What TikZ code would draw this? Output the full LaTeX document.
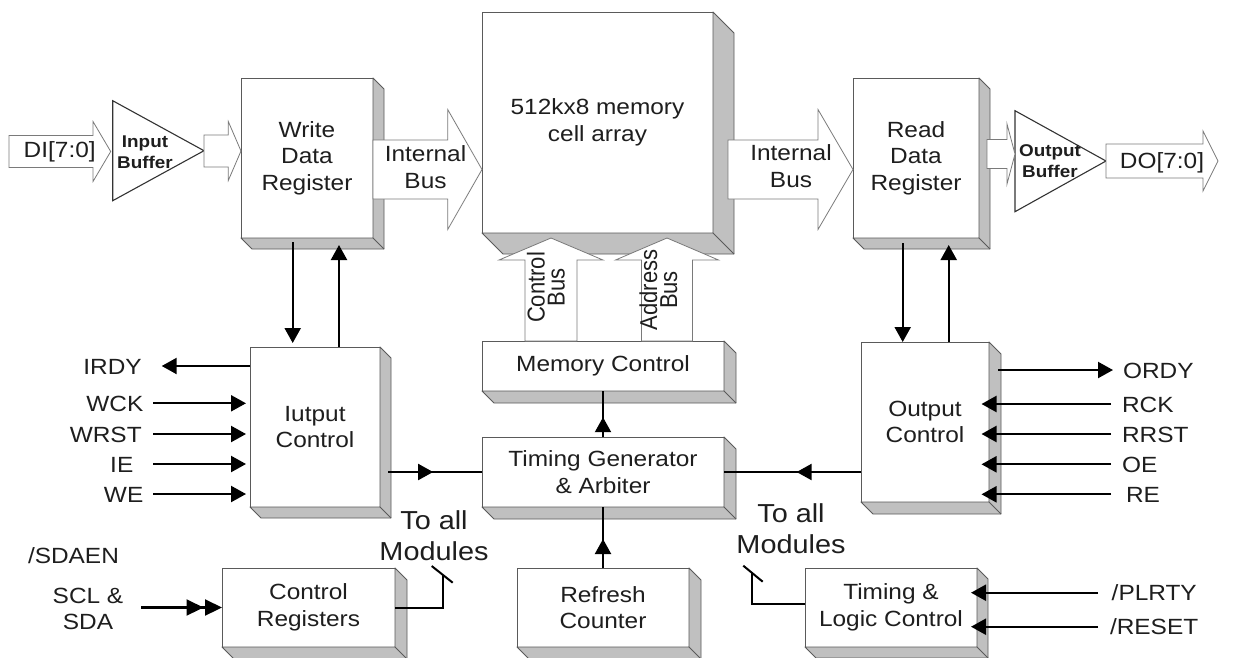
\documentclass[tikz,border=0pt]{standalone}
\usepackage{fontspec}
\setmainfont{Liberation Sans}[FakeStretch=1.11]
\newfontfamily\plainsans{Liberation Sans}
\usetikzlibrary{arrows.meta,calc,decorations.markings}

\definecolor{sidegray}{HTML}{C0C0C0}
\definecolor{edgegray}{HTML}{5A5A5A}
\definecolor{busedge}{HTML}{7A7A7A}
\definecolor{ink}{HTML}{1E1E1E}

\tikzset{
  blk/.style={draw=edgegray, line width=0.9pt, fill=white, inner sep=0pt, outer sep=0pt,
    align=center, text=ink, font=\fontsize{22}{26.5}\selectfont},
  sidepart/.style={draw=edgegray, line width=0.9pt, fill=sidegray, line join=round},
  busarrow/.style={draw=busedge, line width=0.8pt, fill=white, line join=miter},
  lbl/.style={inner sep=0pt, outer sep=0pt, text=ink, font=\fontsize{22}{26.5}\selectfont, align=center},
  sigl/.style={inner sep=0pt, outer sep=0pt, text=ink, font=\fontsize{22}{26.5}\selectfont,
    text height=16pt, text depth=0pt},
  sigline/.style={line width=2.2pt, draw=black},
  arrowend/.style={-{Triangle[length=15pt,width=16pt]}},
  midhead/.style={postaction={decorate}, decoration={markings,
    mark=at position #1 with {\arrow{Triangle[length=15pt,width=16pt]}}}},
  wireline/.style={line width=2pt, draw=black},
  bufshape/.style={draw=black!80, line width=1.1pt, fill=white, line join=miter},
}

% grey right and bottom faces of a raised block
\newcommand\blockdepth[2]{%
  \filldraw[sidepart] (#1.north east) -- ($(#1.north east)+(#2,#2)$) -- ($(#1.south east)+(#2,#2)$)
    -- ($(#1.south west)+(#2,#2)$) -- (#1.south west) -- (#1.south east) -- cycle;
  \draw[sidepart] (#1.south east) -- ($(#1.south east)+(#2,#2)$);
}
% hollow bus arrow pointing right: x start, x head base, x tip, y centre, body half, head half
\newcommand\hbusarrow[6]{%
  \filldraw[busarrow] (#1,{#4-#5}) -- (#2,{#4-#5}) -- (#2,{#4-#6}) -- (#3,#4) -- (#2,{#4+#6})
    -- (#2,{#4+#5}) -- (#1,{#4+#5}) -- cycle;}
% hollow bus arrow pointing up: x centre, y start, y head base, y tip, body half, head half
\newcommand\vbusarrow[6]{%
  \filldraw[busarrow] ({#1-#5},#2) -- ({#1-#5},#3) -- ({#1-#6},#3) -- (#1,#4) -- ({#1+#6},#3)
    -- ({#1+#5},#3) -- ({#1+#5},#2) -- cycle;}

\begin{document}
\begin{tikzpicture}[x=1pt,y=-1pt]
\fill[white] (0,0) rectangle (1234,657);
\useasboundingbox (0,0) rectangle (1234,657);

% ---------------- blocks ----------------
\node[blk, minimum width=132pt, minimum height=160pt] (wdr) at (307,158) {Write\\Data\\Register};
\node[blk, minimum width=231pt, minimum height=221pt] (mem) at (597.5,122.5) {512kx8 memory\\cell array};
\node[blk, minimum width=126pt, minimum height=160pt] (rdr) at (916,158) {Read\\Data\\Register};
\node[blk, minimum width=130pt, minimum height=160pt] (ictl) at (315,427) {Iutput\\Control};
\node[blk, minimum width=242pt, minimum height=50pt] (mctl) at (603,366) {Memory Control};
\node[blk, minimum width=242pt, minimum height=70pt] (tga) at (603,472) {Timing Generator\\\& Arbiter};
\node[blk, minimum width=128pt, minimum height=160pt] (octl) at (925,422) {Output\\Control};
\node[blk, minimum width=173pt, minimum height=79pt] (creg) at (308.5,607.5) {Control\\Registers};
\node[blk, minimum width=172pt, minimum height=79pt] (rcnt) at (603,607.5) {Refresh\\Counter};
\node[blk, minimum width=172pt, minimum height=79pt] (tlc) at (891,607.5) {Timing \&\\Logic Control};

\blockdepth{wdr}{11}
\blockdepth{mem}{21}
\blockdepth{rdr}{11}
\blockdepth{ictl}{11}
\blockdepth{mctl}{12}
\blockdepth{tga}{12}
\blockdepth{octl}{12}
\blockdepth{creg}{12}
\blockdepth{rcnt}{12}
\blockdepth{tlc}{11}

% ---------------- buffers ----------------
\draw[bufshape] (112.7,100.7) -- (204,150.7) -- (112.7,200.7) -- cycle;
\draw[bufshape] (1015,110.7) -- (1106,161) -- (1015,211.7) -- cycle;

% ---------------- data buses ----------------
\hbusarrow{9}{93}{110.7}{151.5}{16}{30}
\hbusarrow{204}{228.3}{241}{151}{16}{29.5}
\hbusarrow{373}{447.7}{482}{169.5}{29.5}{60}
\hbusarrow{728}{818}{853}{169.5}{29.5}{60}
\hbusarrow{987}{1007}{1015}{154}{14.5}{30}
\hbusarrow{1106}{1203}{1218}{161}{17}{30}
\vbusarrow{551}{341}{260}{238}{26}{52}
\vbusarrow{667}{341}{260}{238}{25.5}{51.5}

\node[lbl, font=\bfseries\fontsize{17}{21}\selectfont] (ibuf) at (145,152.5) {Input\\Buffer};
\node[lbl, font=\bfseries\fontsize{17}{21}\selectfont] (obuf) at (1050,161.5) {Output\\Buffer};
\node[lbl, anchor=base] (di) at (59.7,157) {DI[7:0]};
\node[lbl, anchor=base] (do) at (1162,168) {DO[7:0]};
\node[lbl] (ibl) at (425.5,167) {Internal\\Bus};
\node[lbl] (ibr) at (791,166) {Internal\\Bus};
\node[lbl, font=\plainsans\fontsize{22}{18}\selectfont, rotate=90, yscale=1.11] (cbus) at (546,287.5) {Control\\Bus};
\node[lbl, font=\plainsans\fontsize{22}{18}\selectfont, rotate=90, yscale=1.11] (abus) at (658.5,290) {Address\\Bus};

% ---------------- register <-> control arrows ----------------
\coordinate (dnL) at (292.7,0);
\coordinate (upL) at (339,0);
\coordinate (dnR) at (902.7,0);
\coordinate (upR) at (948.7,0);
\draw[sigline, arrowend, shorten >=4pt] ($(wdr.south -| dnL)+(0,4)$) -- (ictl.north -| dnL);
\draw[sigline, arrowend] (ictl.north -| upL) -- ($(wdr.south -| upL)+(0,7)$);
\draw[sigline, arrowend] ($(rdr.south -| dnR)+(0,5)$) -- (octl.north -| dnR);
\draw[sigline, arrowend] (octl.north -| upR) -- ($(rdr.south -| upR)+(0,7)$);

% ---------------- central control path ----------------
\draw[sigline, midhead=0.48] ($(ictl.east |- tga.west)+(8,0)$) -- (tga.west);
\draw[sigline, midhead=0.47] (octl.west |- tga.east) -- (tga.east);
\draw[sigline, midhead=0.43] (tga.north) -- (mctl.south);
\draw[sigline, midhead=0.475] (rcnt.north) -- (tga.south);

% ---------------- write side signals ----------------
\node[sigl, anchor=east] (irdy) at (141.7,366) {IRDY};
\node[sigl, anchor=east] (wck) at (143.3,403.3) {WCK};
\node[sigl, anchor=east] (wrst) at (141.7,434) {WRST};
\node[sigl, anchor=east] (ie) at (133.3,464) {IE};
\node[sigl, anchor=east] (we) at (143.3,494) {WE};
\draw[sigline, arrowend, shorten >=20pt] (irdy.east -| ictl.west) -- (irdy.east);
\draw[sigline, arrowend, shorten <=10pt, shorten >=4pt] (wck.east) -- (wck.east -| ictl.west);
\draw[sigline, arrowend, shorten <=11.6pt, shorten >=4pt] (wrst.east) -- (wrst.east -| ictl.west);
\draw[sigline, arrowend, shorten <=20pt, shorten >=4pt] (ie.east) -- (ie.east -| ictl.west);
\draw[sigline, arrowend, shorten <=10pt, shorten >=4pt] (we.east) -- (we.east -| ictl.west);

% ---------------- read side signals ----------------
\node[sigl, anchor=west] (ordy) at (1123,370) {ORDY};
\node[sigl, anchor=west] (rck) at (1122,404) {RCK};
\node[sigl, anchor=west] (rrst) at (1122,434) {RRST};
\node[sigl, anchor=west] (oe) at (1122,464.3) {OE};
\node[sigl, anchor=west] (re) at (1126,494.3) {RE};
\draw[sigline, arrowend, shorten >=10pt] ($(ordy.west -| octl.east)+(9,0)$) -- (ordy.west);
\draw[sigline, arrowend, shorten <=11pt, shorten >=-7.5pt] (rck.west) -- (rck.west -| octl.east);
\draw[sigline, arrowend, shorten <=11pt, shorten >=-7.5pt] (rrst.west) -- (rrst.west -| octl.east);
\draw[sigline, arrowend, shorten <=11pt, shorten >=-7.5pt] (oe.west) -- (oe.west -| octl.east);
\draw[sigline, arrowend, shorten <=15pt, shorten >=-7.5pt] (re.west) -- (re.west -| octl.east);

% ---------------- serial interface ----------------
\node[lbl, anchor=base west] (sdaen) at (28,563) {/SDAEN};
\node[lbl] (scl) at (88,609) {SCL \&\\SDA};
\draw[sigline, -{Triangle[length=17pt,width=16pt,sep=1.5pt]Triangle[length=17pt,width=16pt]}, shorten <=18pt]
  (creg.west -| scl.east) -- (creg.west);

% ---------------- reset / polarity ----------------
\node[sigl, anchor=west] (plr) at (1111.7,592.7) {/PLRTY};
\node[sigl, anchor=west] (rst) at (1110,626.7) {/RESET};
\draw[sigline, arrowend, shorten <=13.7pt, shorten >=-6pt] (plr.west) -- (plr.west -| tlc.east);
\draw[sigline, arrowend, shorten <=12pt, shorten >=-6pt] (rst.west) -- (rst.west -| tlc.east);

% ---------------- broadcast to all modules ----------------
\node[lbl, font=\fontsize{26}{30.5}\selectfont] (tamL) at (434,535.7) {To all\\Modules};
\node[lbl, font=\fontsize{26}{30.5}\selectfont] (tamR) at (791,528.7) {To all\\Modules};
\coordinate (slL) at (443.3,575.3);
\coordinate (slR) at (751.7,572.6);
\draw[wireline] (creg.east) -| (slL);
\draw[wireline] ($(slL)+(-11.6,-9.3)$) -- ($(slL)+(9.4,7.4)$);
\draw[wireline] ($(tlc.west)+(0,-3.5)$) -| (slR);
\draw[wireline] ($(slR)+(-8.4,-6.9)$) -- ($(slR)+(11,9.1)$);
\end{tikzpicture}
\end{document}
